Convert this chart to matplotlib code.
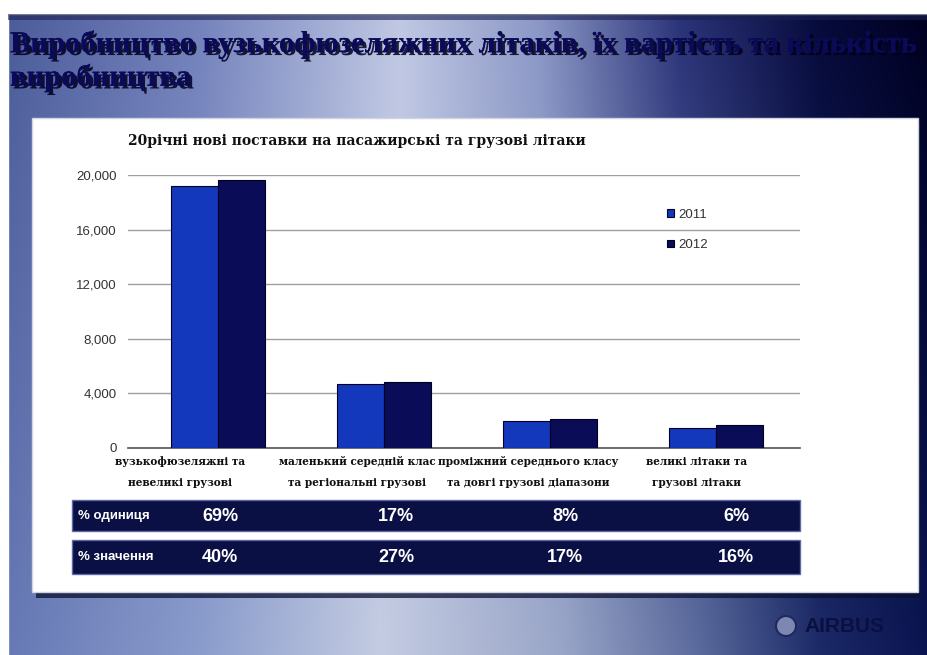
import numpy as np
import matplotlib
matplotlib.use("Agg")
import matplotlib.pyplot as plt
from matplotlib.patches import Rectangle, Circle
from matplotlib.colors import to_rgb
import matplotlib.patheffects as pe

# ---------------- data ----------------
categories = ["вузькофюзеляжні та\nневеликі грузові",
              "маленький середній клас\nта регіональні грузові",
              "проміжний середнього класу\nта довгі грузові діапазони",
              "великі літаки та\nгрузові літаки"]
series_names = ["2011", "2012"]
values_2011 = [19200, 4700, 2000, 1500]
values_2012 = [19600, 4800, 2100, 1700]
yticks = [0, 4000, 8000, 12000, 16000, 20000]
row_labels = ["% одиниця", "% значення"]
pct_units = [69, 17, 8, 6]
pct_value = [40, 27, 17, 16]

title = "Виробництво вузькофюзеляжних літаків, їх вартість та кількість\nвиробництва"
subtitle = "20річні нові поставки на пасажирські та грузові літаки"

W, H = 928, 655
fig = plt.figure(figsize=(W / 100, H / 100), dpi=100)

# ---------------- background (pixel coords) ----------------
bg = fig.add_axes([0, 0, 1, 1])
bg.set_xlim(0, W)
bg.set_ylim(H, 0)
bg.axis("off")

xs = np.linspace(0, W, W)
def row(stops):
    pos = [p for p, c in stops]
    cols = np.array([to_rgb(c) for p, c in stops])
    return np.stack([np.interp(xs, pos, cols[:, k]) for k in range(3)], axis=1)

top_row = row([(0, "#4a5a98"), (200, "#7482bc"), (400, "#c0c8e4"), (540, "#8a96c6"),
               (680, "#2a3278"), (820, "#060a3a"), (928, "#000020")])
bot_row = row([(0, "#6678b4"), (200, "#8a9ccc"), (380, "#c4cce2"), (560, "#9aa6c8"),
               (700, "#5a6a9c"), (820, "#1c2a68"), (928, "#0a1450")])
t = np.linspace(0, 1, H)[:, None, None]
grad = (1 - t) * top_row[None, :, :] + t * bot_row[None, :, :]
bg.imshow(grad, extent=(0, W, H, 0), aspect="auto", zorder=0)
bg.add_patch(Rectangle((0, 0), W, 14, color="white", zorder=1))
bg.add_patch(Rectangle((0, 0), 8, H, color="white", zorder=1))
bg.add_patch(Rectangle((8, 14), W, 6, color="#1a2050", alpha=0.6, zorder=1, lw=0))

# white panel with shadow
bg.add_patch(Rectangle((36, 124), 884, 474, color="#0a1030", alpha=0.75, zorder=2, lw=0))
bg.add_patch(Rectangle((32, 118), 886, 474, facecolor="white", edgecolor="#d0d4e0", lw=1, zorder=3))

# title
bg.text(10, 61, title, fontsize=22, fontweight="bold", family="Liberation Serif",
        color="#0a0a58", va="center", ha="left", linespacing=1.15, zorder=5,
        path_effects=[pe.withSimplePatchShadow(offset=(2, -2), shadow_rgbFace="#000018", alpha=0.85),
                      pe.Normal()])
# subtitle
bg.text(128, 141, subtitle, fontsize=10, fontweight="bold", family="DejaVu Serif",
        color="#111111", va="center", ha="left", zorder=5)

# ---------------- chart ----------------
ax = fig.add_axes([128 / W, 1 - 448 / H, (800 - 128) / W, (448 - 175) / H])
ax.set_zorder(4)
ax.patch.set_alpha(0)
x = np.arange(len(categories))
bw = 0.285
ax.bar(x - bw / 2, values_2011, bw, color="#1438bc", edgecolor="#000028", lw=0.8,
       label=series_names[0], zorder=3)
ax.bar(x + bw / 2, values_2012, bw, color="#0a0c58", edgecolor="#000020", lw=0.8,
       label=series_names[1], zorder=3)
ax.set_xlim(-0.542, 3.506)
ax.set_ylim(0, 20000)
ax.set_yticks(yticks)
ax.set_yticklabels([f"{v:,}" for v in yticks], fontsize=9.5, color="#333333",
                   family="Liberation Sans")
ax.tick_params(axis="y", length=0, pad=8)
ax.tick_params(axis="x", length=0)
ax.set_xticks([])
ax.grid(axis="y", color="#a0a0a0", lw=1, zorder=0)
for s in ["left", "right", "top"]:
    ax.spines[s].set_visible(False)
ax.spines["bottom"].set_color("#555555")
ax.spines["bottom"].set_linewidth(1.2)

label_shift = [-0.23, -0.16, -0.13, -0.115]
for i, c in enumerate(categories):
    ax.text(i + label_shift[i], -0.028, c, transform=ax.get_xaxis_transform(), ha="center",
            va="top", fontsize=7.6, fontweight="bold", family="DejaVu Serif", color="#111111",
            linespacing=2.1)

leg = ax.legend(loc="upper left", bbox_to_anchor=((655 - 128) / 672, 0.92), frameon=False,
                handlelength=0.55, handleheight=0.55, handletextpad=0.3, labelspacing=1.4,
                prop={"family": "Liberation Sans", "size": 9.5})
for txt in leg.get_texts():
    txt.set_color("#333333")

# ---------------- percentage rows ----------------
col_x = [220, 396, 565, 736]
rows = [(500, 531, row_labels[0], pct_units), (540, 574, row_labels[1], pct_value)]
for y0, y1, lab, vals in rows:
    bg.add_patch(Rectangle((72, y0), 728, y1 - y0, facecolor="#0a0f44",
                           edgecolor="#5c6aa8", lw=1, zorder=6))
    yc = (y0 + y1) / 2
    bg.text(78, yc, lab, color="white", fontsize=9.5, fontweight="bold",
            family="Liberation Sans", va="center", ha="left", zorder=7)
    for cx, v in zip(col_x, vals):
        bg.text(cx, yc + 1, f"{v}%", color="white", fontsize=13, fontweight="bold",
                family="Liberation Sans", va="center", ha="center", zorder=7)

# ---------------- logo ----------------
bg.add_patch(Circle((786, 626), 10, facecolor="#7c88b0", edgecolor="#202860", lw=1.5, zorder=6))
bg.text(804, 627, "AIRBUS", color="#0a1040", fontsize=15, fontweight="bold",
        family="Liberation Sans", va="center", ha="left", zorder=6)

fig.savefig("out.png", dpi=100)
